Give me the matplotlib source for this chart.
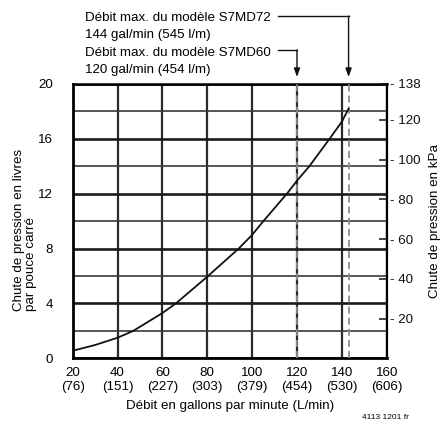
import matplotlib
matplotlib.use("Agg")
import matplotlib.pyplot as plt
from matplotlib.transforms import blended_transform_factory
from matplotlib.ticker import MultipleLocator, FixedLocator

plt.rcParams['font.family'] = ['Liberation Sans', 'DejaVu Sans']
plt.rcParams['lines.scale_dashes'] = False

# ---- data ----
flow_gpm = [20, 30, 40, 47, 60, 66, 80, 94, 100, 105, 115.5, 120, 125.5, 134.5, 140, 143]
drop_psi = [0.55, 0.97, 1.5, 2.0, 3.3, 4.0, 5.95, 8.0, 9.0, 10.0, 12.0, 12.95, 14.0, 16.0, 17.25, 18.2]

gpm_ticks = [20, 40, 60, 80, 100, 120, 140, 160]
lpm_ticks = [76, 151, 227, 303, 379, 454, 530, 606]
psi_ticks = [0, 4, 8, 12, 16, 20]
kpa_ticks = [20, 40, 60, 80, 100, 120, 138]
kpa_max = 138

model_flow = [120, 143]
model_labels = [
    ("Débit max. du modèle S7MD60", "120 gal/min (454 l/m)"),
    ("Débit max. du modèle S7MD72", "144 gal/min (545 l/m)"),
]

FS = 9.6
W, H = 443, 422
fig = plt.figure(figsize=(W / 100, H / 100), dpi=100)
ax = fig.add_axes([72.7 / W, 1 - 358.3 / H, (386.7 - 72.7) / W, (358.3 - 84) / H])

ax.set_xlim(20, 160)
ax.set_ylim(0, 20)

# grid
ax.xaxis.set_major_locator(FixedLocator(gpm_ticks))
ax.yaxis.set_major_locator(FixedLocator(psi_ticks))
ax.yaxis.set_minor_locator(MultipleLocator(2))
ax.grid(which='major', axis='y', color='#1a1a1a', lw=1.9)
ax.grid(which='minor', axis='y', color='#3a3a3a', lw=1.2)
ax.grid(which='major', axis='x', color='#2a2a2a', lw=1.6)
ax.set_axisbelow(True)

ax.set_xticklabels([f"{g}\n({l})" for g, l in zip(gpm_ticks, lpm_ticks)],
                   fontsize=FS, linespacing=1.2)
ax.set_yticklabels([str(p) for p in psi_ticks], fontsize=FS)
ax.tick_params(axis='x', which='both', length=0, pad=6.5)
ax.tick_params(axis='y', which='both', length=0, pad=14)

for s in ax.spines.values():
    s.set_color('black')
ax.spines['left'].set_linewidth(2.0)
ax.spines['bottom'].set_linewidth(2.0)
ax.spines['top'].set_linewidth(1.8)
ax.spines['right'].set_linewidth(1.6)

# dashed model lines
for f in model_flow:
    ax.axvline(f, color='#8c8c8c', lw=1.3, linestyle=(0, (5, 3)), zorder=3)

# curve
ax.plot(flow_gpm, drop_psi, color='#111111', lw=1.3, zorder=4)

ax.set_xlabel("Débit en gallons par minute (L/min)", fontsize=FS, labelpad=5)

# right axis
ax2 = ax.twinx()
ax2.set_ylim(0, kpa_max)
ax2.yaxis.set_major_locator(FixedLocator(kpa_ticks))
ax2.set_yticklabels([f"- {k}" for k in kpa_ticks], fontsize=FS)
ax2.tick_params(axis='y', direction='in', length=6, width=1.1, pad=2.5, colors='#111111')
for s in ax2.spines.values():
    s.set_visible(False)
ax2.set_ylabel("Chute de pression en kPa", fontsize=FS, labelpad=6)

# left label
fig.text(25 / W, 1 - 230 / H, "Chute de pression en livres\npar pouce carré",
         rotation=90, ha='center', va='center', multialignment='left',
         fontsize=FS, linespacing=1.05)

# annotations above plot
blend = blended_transform_factory(ax.transData, fig.transFigure)
text_x = 85 / W
lead_start = 278 / W
tip_y = 1 - 77 / H
specs = [
    (model_flow[0], model_labels[0], 1 - 55.7 / H, 1 - 73.3 / H, 1 - 50 / H),
    (model_flow[1], model_labels[1], 1 - 20.7 / H, 1 - 38.3 / H, 1 - 16 / H),
]
for f, (l1, l2), b1, b2, ly in specs:
    fig.text(text_x, b1, l1, ha='left', va='baseline', fontsize=FS)
    fig.text(text_x, b2, l2, ha='left', va='baseline', fontsize=FS)
    xf = blend.transform((f, 0))[0]
    xf_fig = fig.transFigure.inverted().transform((xf, 0))[0]
    fig.add_artist(plt.Line2D([lead_start, xf_fig], [ly, ly], transform=fig.transFigure,
                              color='#111111', lw=1.0))
    ax.annotate('', xy=(f, tip_y), xycoords=blend, xytext=(f, ly), textcoords=blend,
                arrowprops=dict(arrowstyle='-|>,head_length=0.5,head_width=0.18',
                                color='#111111', lw=1.0, shrinkA=0, shrinkB=0),
                annotation_clip=False)

fig.text(361.7 / W, 1 - 414 / H, "4113 1201 fr", ha='left', va='top', fontsize=6)

fig.savefig("out.png", dpi=100)
